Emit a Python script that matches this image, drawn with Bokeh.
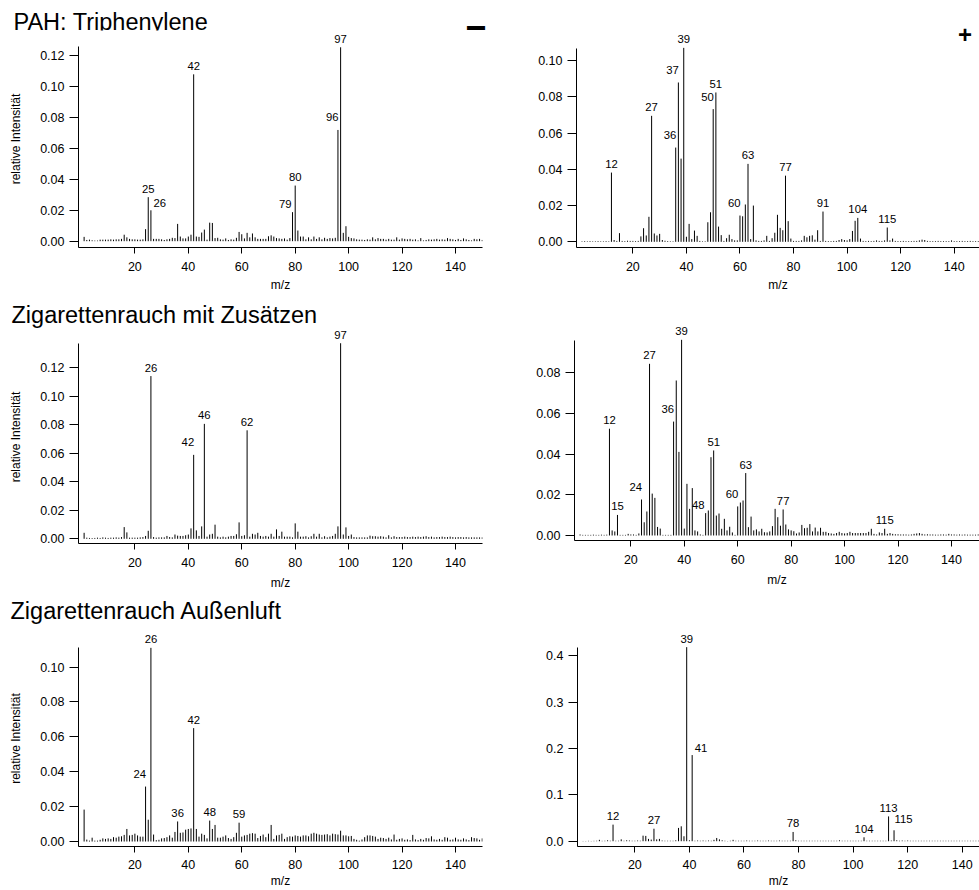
from bokeh.plotting import figure
from bokeh.models import Range1d, FixedTicker, PrintfTickFormatter, Label, LabelSet, ColumnDataSource, Div
from bokeh.core.properties import value
from bokeh.layouts import column, row
from bokeh.embed import file_html
from bokeh.resources import INLINE

FONT = "Liberation Sans"

# ---------------- data ----------------
mz = list(range(1, 151))
x_ticks = [20, 40, 60, 80, 100, 120, 140]

titles = ["PAH: Triphenylene", "Zigarettenrauch mit Zusätzen", "Zigarettenrauch Außenluft"]

# negative ions, PAH: Triphenylene
neg_pah = [
    0.0028, 0.0008, 0.0010, 0.0006, 0.0004, 0.0004, 0.0010, 0.0010, 0.0010, 0.0010,
    0.0012, 0.0010, 0.0012, 0.0012, 0.0015, 0.0042, 0.0025, 0.0015, 0.0012, 0.0012,
    0.0010, 0.0010, 0.0012, 0.0078, 0.0285, 0.0200, 0.0015, 0.0015, 0.0015, 0.0012,
    0.0008, 0.0012, 0.0015, 0.0022, 0.0020, 0.0112, 0.0030, 0.0018, 0.0018, 0.0030,
    0.0042, 0.1080, 0.0030, 0.0028, 0.0056, 0.0075, 0.0010, 0.0120, 0.0118, 0.0020,
    0.0022, 0.0012, 0.0010, 0.0018, 0.0008, 0.0012, 0.0010, 0.0022, 0.0060, 0.0045,
    0.0018, 0.0054, 0.0025, 0.0050, 0.0025, 0.0015, 0.0015, 0.0015, 0.0015, 0.0032,
    0.0038, 0.0030, 0.0020, 0.0018, 0.0015, 0.0018, 0.0010, 0.0020, 0.0188, 0.0360,
    0.0069, 0.0030, 0.0030, 0.0012, 0.0025, 0.0012, 0.0030, 0.0015, 0.0025, 0.0012,
    0.0022, 0.0015, 0.0020, 0.0018, 0.0022, 0.0720, 0.1255, 0.0054, 0.0097, 0.0028,
    0.0020, 0.0018, 0.0012, 0.0010, 0.0010, 0.0008, 0.0012, 0.0010, 0.0025, 0.0012,
    0.0020, 0.0015, 0.0015, 0.0010, 0.0015, 0.0010, 0.0010, 0.0025, 0.0010, 0.0018,
    0.0015, 0.0012, 0.0015, 0.0010, 0.0012, 0.0005, 0.0020, 0.0005, 0.0008, 0.0012,
    0.0010, 0.0012, 0.0015, 0.0010, 0.0012, 0.0010, 0.0020, 0.0015, 0.0012, 0.0008,
    0.0015, 0.0008, 0.0018, 0.0012, 0.0008, 0.0005, 0.0015, 0.0012, 0.0015, 0.0008,
]

# positive ions, PAH: Triphenylene
pos_pah = [
    0.0003, 0.0004, 0.0003, 0.0004, 0.0003, 0.0003, 0.0004, 0.0003, 0.0003, 0.0004,
    0.0003, 0.0382, 0.0010, 0.0005, 0.0048, 0.0005, 0.0004, 0.0006, 0.0005, 0.0005,
    0.0004, 0.0005, 0.0030, 0.0075, 0.0035, 0.0138, 0.0695, 0.0046, 0.0035, 0.0044,
    0.0010, 0.0006, 0.0004, 0.0003, 0.0003, 0.0520, 0.0879, 0.0459, 0.1070, 0.0028,
    0.0099, 0.0015, 0.0062, 0.0033, 0.0005, 0.0003, 0.0003, 0.0108, 0.0163, 0.0732,
    0.0824, 0.0084, 0.0037, 0.0005, 0.0020, 0.0039, 0.0015, 0.0008, 0.0008, 0.0145,
    0.0141, 0.0206, 0.0430, 0.0015, 0.0200, 0.0008, 0.0005, 0.0005, 0.0008, 0.0033,
    0.0005, 0.0020, 0.0050, 0.0149, 0.0077, 0.0064, 0.0365, 0.0114, 0.0018, 0.0005,
    0.0005, 0.0005, 0.0008, 0.0033, 0.0025, 0.0033, 0.0036, 0.0012, 0.0064, 0.0005,
    0.0167, 0.0005, 0.0004, 0.0004, 0.0005, 0.0005, 0.0010, 0.0015, 0.0010, 0.0008,
    0.0015, 0.0060, 0.0116, 0.0132, 0.0018, 0.0005, 0.0004, 0.0005, 0.0004, 0.0005,
    0.0008, 0.0005, 0.0005, 0.0008, 0.0079, 0.0008, 0.0018, 0.0005, 0.0004, 0.0004,
    0.0005, 0.0004, 0.0004, 0.0004, 0.0005, 0.0005, 0.0008, 0.0012, 0.0010, 0.0005,
    0.0004, 0.0004, 0.0004, 0.0005, 0.0004, 0.0004, 0.0004, 0.0004, 0.0008, 0.0004,
    0.0004, 0.0004, 0.0005, 0.0004, 0.0004, 0.0005, 0.0004, 0.0004, 0.0004, 0.0004,
]

# negative ions, cigarette smoke with additives
neg_zus = [
    0.0042, 0.0008, 0.0006, 0.0005, 0.0006, 0.0008, 0.0006, 0.0010, 0.0008, 0.0006,
    0.0008, 0.0008, 0.0010, 0.0008, 0.0012, 0.0082, 0.0045, 0.0008, 0.0008, 0.0008,
    0.0008, 0.0010, 0.0012, 0.0020, 0.0056, 0.1140, 0.0012, 0.0008, 0.0010, 0.0010,
    0.0010, 0.0020, 0.0012, 0.0010, 0.0030, 0.0022, 0.0020, 0.0020, 0.0025, 0.0030,
    0.0073, 0.0588, 0.0059, 0.0020, 0.0087, 0.0805, 0.0015, 0.0030, 0.0035, 0.0099,
    0.0015, 0.0010, 0.0015, 0.0010, 0.0015, 0.0020, 0.0020, 0.0032, 0.0115, 0.0020,
    0.0025, 0.0760, 0.0015, 0.0035, 0.0030, 0.0042, 0.0020, 0.0015, 0.0020, 0.0015,
    0.0035, 0.0015, 0.0066, 0.0020, 0.0050, 0.0015, 0.0015, 0.0015, 0.0010, 0.0108,
    0.0050, 0.0015, 0.0015, 0.0018, 0.0010, 0.0018, 0.0035, 0.0015, 0.0035, 0.0010,
    0.0018, 0.0010, 0.0015, 0.0020, 0.0035, 0.0087, 0.1370, 0.0030, 0.0080, 0.0020,
    0.0030, 0.0012, 0.0010, 0.0010, 0.0010, 0.0010, 0.0010, 0.0022, 0.0018, 0.0018,
    0.0015, 0.0018, 0.0015, 0.0010, 0.0025, 0.0010, 0.0018, 0.0012, 0.0012, 0.0012,
    0.0015, 0.0012, 0.0012, 0.0015, 0.0012, 0.0015, 0.0012, 0.0015, 0.0018, 0.0012,
    0.0015, 0.0010, 0.0012, 0.0012, 0.0015, 0.0012, 0.0012, 0.0015, 0.0012, 0.0010,
    0.0012, 0.0012, 0.0010, 0.0012, 0.0010, 0.0010, 0.0010, 0.0010, 0.0010, 0.0010,
]

# positive ions, cigarette smoke with additives
pos_zus = [
    0.0005, 0.0003, 0.0003, 0.0003, 0.0003, 0.0004, 0.0003, 0.0003, 0.0004, 0.0003,
    0.0004, 0.0525, 0.0025, 0.0020, 0.0101, 0.0003, 0.0003, 0.0003, 0.0008, 0.0005,
    0.0005, 0.0003, 0.0010, 0.0177, 0.0065, 0.0118, 0.0844, 0.0206, 0.0185, 0.0042,
    0.0034, 0.0003, 0.0003, 0.0003, 0.0003, 0.0560, 0.0762, 0.0411, 0.0962, 0.0034,
    0.0254, 0.0131, 0.0233, 0.0025, 0.0020, 0.0005, 0.0003, 0.0110, 0.0123, 0.0385,
    0.0418, 0.0098, 0.0108, 0.0033, 0.0082, 0.0025, 0.0043, 0.0015, 0.0003, 0.0143,
    0.0162, 0.0172, 0.0307, 0.0041, 0.0093, 0.0025, 0.0030, 0.0020, 0.0033, 0.0016,
    0.0015, 0.0020, 0.0046, 0.0131, 0.0090, 0.0048, 0.0128, 0.0054, 0.0030, 0.0025,
    0.0021, 0.0010, 0.0015, 0.0052, 0.0036, 0.0038, 0.0056, 0.0020, 0.0039, 0.0020,
    0.0038, 0.0018, 0.0018, 0.0012, 0.0010, 0.0008, 0.0012, 0.0018, 0.0012, 0.0010,
    0.0012, 0.0018, 0.0012, 0.0012, 0.0012, 0.0012, 0.0012, 0.0012, 0.0018, 0.0033,
    0.0008, 0.0005, 0.0015, 0.0012, 0.0033, 0.0008, 0.0012, 0.0008, 0.0006, 0.0006,
    0.0005, 0.0005, 0.0005, 0.0004, 0.0005, 0.0008, 0.0010, 0.0012, 0.0008, 0.0005,
    0.0006, 0.0005, 0.0005, 0.0004, 0.0004, 0.0005, 0.0005, 0.0004, 0.0008, 0.0005,
    0.0005, 0.0004, 0.0005, 0.0004, 0.0005, 0.0004, 0.0004, 0.0004, 0.0004, 0.0005,
]

# negative ions, cigarette smoke outdoor air
neg_luft = [
    0.0183, 0.0011, 0.0005, 0.0022, 0.0005, 0.0005, 0.0010, 0.0018, 0.0015, 0.0018,
    0.0015, 0.0025, 0.0022, 0.0028, 0.0030, 0.0038, 0.0072, 0.0035, 0.0038, 0.0045,
    0.0035, 0.0028, 0.0028, 0.0315, 0.0125, 0.1110, 0.0040, 0.0008, 0.0010, 0.0018,
    0.0020, 0.0025, 0.0035, 0.0022, 0.0055, 0.0115, 0.0050, 0.0052, 0.0068, 0.0072,
    0.0075, 0.0650, 0.0072, 0.0028, 0.0045, 0.0038, 0.0018, 0.0120, 0.0072, 0.0095,
    0.0022, 0.0022, 0.0028, 0.0035, 0.0020, 0.0015, 0.0025, 0.0050, 0.0108, 0.0028,
    0.0035, 0.0038, 0.0045, 0.0048, 0.0045, 0.0020, 0.0032, 0.0040, 0.0025, 0.0045,
    0.0095, 0.0015, 0.0035, 0.0038, 0.0045, 0.0015, 0.0025, 0.0030, 0.0028, 0.0035,
    0.0032, 0.0028, 0.0035, 0.0035, 0.0030, 0.0045, 0.0050, 0.0045, 0.0040, 0.0038,
    0.0040, 0.0042, 0.0035, 0.0045, 0.0042, 0.0040, 0.0062, 0.0035, 0.0035, 0.0030,
    0.0032, 0.0015, 0.0010, 0.0005, 0.0012, 0.0025, 0.0035, 0.0035, 0.0032, 0.0028,
    0.0015, 0.0022, 0.0020, 0.0015, 0.0022, 0.0012, 0.0040, 0.0010, 0.0015, 0.0018,
    0.0010, 0.0012, 0.0008, 0.0038, 0.0012, 0.0008, 0.0015, 0.0010, 0.0020, 0.0018,
    0.0030, 0.0012, 0.0010, 0.0015, 0.0010, 0.0025, 0.0022, 0.0010, 0.0012, 0.0022,
    0.0012, 0.0010, 0.0018, 0.0012, 0.0008, 0.0025, 0.0020, 0.0018, 0.0010, 0.0018,
]

# positive ions, cigarette smoke outdoor air
pos_luft = [
    0.0005, 0.0005, 0.0008, 0.0005, 0.0008, 0.0010, 0.0030, 0.0008, 0.0010, 0.0020,
    0.0010, 0.0358, 0.0010, 0.0010, 0.0040, 0.0010, 0.0020, 0.0015, 0.0010, 0.0010,
    0.0015, 0.0010, 0.0120, 0.0115, 0.0050, 0.0035, 0.0270, 0.0040, 0.0050, 0.0015,
    0.0010, 0.0010, 0.0010, 0.0010, 0.0020, 0.0287, 0.0322, 0.0107, 0.4190, 0.0020,
    0.1860, 0.0010, 0.0015, 0.0010, 0.0015, 0.0010, 0.0015, 0.0010, 0.0030, 0.0070,
    0.0040, 0.0020, 0.0010, 0.0005, 0.0010, 0.0030, 0.0010, 0.0010, 0.0010, 0.0010,
    0.0015, 0.0010, 0.0010, 0.0010, 0.0015, 0.0010, 0.0010, 0.0010, 0.0015, 0.0010,
    0.0010, 0.0010, 0.0015, 0.0010, 0.0010, 0.0010, 0.0010, 0.0200, 0.0020, 0.0010,
    0.0010, 0.0010, 0.0010, 0.0010, 0.0010, 0.0010, 0.0010, 0.0010, 0.0010, 0.0010,
    0.0010, 0.0010, 0.0010, 0.0010, 0.0020, 0.0010, 0.0010, 0.0010, 0.0010, 0.0010,
    0.0010, 0.0010, 0.0010, 0.0085, 0.0010, 0.0010, 0.0010, 0.0010, 0.0010, 0.0010,
    0.0010, 0.0010, 0.0536, 0.0015, 0.0236, 0.0020, 0.0010, 0.0015, 0.0010, 0.0015,
    0.0010, 0.0010, 0.0010, 0.0010, 0.0010, 0.0010, 0.0010, 0.0010, 0.0010, 0.0010,
    0.0010, 0.0010, 0.0010, 0.0010, 0.0010, 0.0010, 0.0010, 0.0010, 0.0010, 0.0010,
    0.0010, 0.0010, 0.0010, 0.0010, 0.0010, 0.0010, 0.0010, 0.0010, 0.0010, 0.0010,
]

# labelled peaks (m/z)
peaks_neg_pah = [25, 26, 42, 79, 80, 96, 97]
peaks_pos_pah = [12, 27, 36, 37, 39, 50, 51, 60, 63, 77, 91, 104, 115]
peaks_neg_zus = [26, 42, 46, 62, 97]
peaks_pos_zus = [12, 15, 24, 27, 36, 39, 48, 51, 60, 63, 77, 115]
peaks_neg_luft = [24, 26, 36, 42, 48, 59]
peaks_pos_luft = [12, 27, 39, 41, 78, 104, 113, 115]

yticks_neg_pah = [0.0, 0.02, 0.04, 0.06, 0.08, 0.10, 0.12]
yticks_pos_pah = [0.0, 0.02, 0.04, 0.06, 0.08, 0.10]
yticks_neg_zus = [0.0, 0.02, 0.04, 0.06, 0.08, 0.10, 0.12]
yticks_pos_zus = [0.0, 0.02, 0.04, 0.06, 0.08]
yticks_neg_luft = [0.0, 0.02, 0.04, 0.06, 0.08, 0.10]
yticks_pos_luft = [0.0, 0.1, 0.2, 0.3, 0.4]

# ---------------- styling of peak labels (placement style, not data) ----------------
# code -> (text_align, x_offset px, y_offset px upward)
LABEL_STYLES = {
    "c": ("center", 0, 4.5),
    "r": ("right", 0.5, 8.5),
    "R": ("right", -1, 4),
    "l": ("left", 2.5, 3.5),
    "L": ("left", 0.5, 7),
}
label_style = {
    "neg_pah": {26: "l", 79: "R", 96: "r"},
    "pos_pah": {36: "r", 37: "r", 50: "r", 60: "r"},
    "neg_zus": {42: "r"},
    "pos_zus": {36: "r", 48: "R", 60: "r", 24: "r"},
    "neg_luft": {24: "r"},
    "pos_luft": {41: "l", 115: "L"},
}


def header(width, height, title, title_top, title_left, sign=None, sign_top=0, sign_left=0):
    """Row title above a left panel (HTML text)."""
    html = (f'<div style="position:relative;width:{width}px;height:{height}px;">'
            f'<span style="position:absolute;left:{title_left}px;top:{title_top}px;'
            f'font-family:\'{FONT}\';font-size:23.5px;line-height:1;color:#000;'
            f'white-space:nowrap;">{title}</span>')
    if sign:
        html += (f'<span style="position:absolute;left:{sign_left}px;top:{sign_top}px;'
                 f'font-family:\'{FONT}\';font-size:36px;font-weight:bold;line-height:1;'
                 f'color:#000;">{sign}</span>')
    html += '</div>'
    return Div(text=html, width=width, height=height, margin=(0, 0, 0, 0),
               styles={"overflow": "visible"})


def make_panel(key, vals, peaks, yticks, yfmt, xr, yr, ytop, width, height,
               mbl, mbr, mbb, ylabel=None, sign=None, sign_xy=None,
               tick_standoff=8, xlabel_standoff=3):
    p = figure(width=width, height=height,
               x_range=Range1d(*xr), y_range=Range1d(*yr),
               output_backend="svg", toolbar_location=None,
               min_border_left=mbl, min_border_right=mbr,
               min_border_top=0, min_border_bottom=mbb)
    p.outline_line_color = None
    p.xgrid.visible = False
    p.ygrid.visible = False
    p.background_fill_color = "white"
    p.border_fill_color = "white"

    p.segment(x0=mz, y0=[0.0] * len(mz), x1=mz, y1=vals,
              line_color="black", line_width=1)

    # axes
    p.xaxis.ticker = FixedTicker(ticks=x_ticks, minor_ticks=[])
    p.yaxis.ticker = FixedTicker(ticks=yticks, minor_ticks=[])
    p.yaxis.formatter = PrintfTickFormatter(format=yfmt)
    p.yaxis.bounds = (yr[0], ytop)
    for ax in (p.xaxis[0], p.yaxis[0]):
        ax.axis_line_color = "black"
        ax.axis_line_width = 1
        ax.major_tick_line_color = "black"
        ax.major_tick_in = 0
        ax.minor_tick_in = 0
        ax.minor_tick_out = 0
        ax.major_label_text_font = FONT
        ax.major_label_text_font_size = "12.5px"
        ax.major_label_text_color = "black"
        ax.axis_label_text_font = FONT
        ax.axis_label_text_font_size = "12px"
        ax.axis_label_text_font_style = "normal"
        ax.axis_label_text_color = "black"
    p.xaxis.major_tick_out = 6
    p.yaxis.major_tick_out = 9
    p.xaxis.major_label_standoff = tick_standoff
    p.yaxis.major_label_standoff = 5
    p.xaxis.axis_label = "m/z"
    p.xaxis.axis_label_standoff = xlabel_standoff
    if ylabel:
        p.yaxis.axis_label = ylabel
        p.yaxis.axis_label_standoff = 14

    # peak labels, grouped by placement style
    styles = label_style.get(key, {})
    groups = {}
    for m in peaks:
        groups.setdefault(styles.get(m, "c"), []).append(m)
    for code, ms in groups.items():
        align, dx, dy = LABEL_STYLES[code]
        src = ColumnDataSource(dict(x=ms, y=[vals[m - 1] for m in ms], t=[str(m) for m in ms]))
        p.add_layout(LabelSet(x="x", y="y", text="t", source=src,
                              x_offset=dx, y_offset=dy,
                              text_align=align, text_baseline="alphabetic",
                              text_font=value(FONT), text_font_size=value("11.3px"),
                              text_color=value("black")))

    if sign:
        p.add_layout(Label(x=sign_xy[0], y=sign_xy[1], x_units="screen", y_units="screen",
                           text=sign, text_font=FONT, text_font_size="24px",
                           text_font_style="bold", text_color="black",
                           text_align="center", text_baseline="middle"))
    return p


# row 1 (0-294)
h1 = header(490, 30, titles[0], 11.2, 13.5, sign="\u2212", sign_top=10.2, sign_left=465.3)
p1 = make_panel("neg_pah", neg_pah, peaks_neg_pah, yticks_neg_pah, "%.2f",
                (-1.1, 150.1), (-0.00408, 0.13637), 0.1260, 490, 264, 78, 8, 47,
                ylabel="relative Intensität", xlabel_standoff=4)
p2 = make_panel("pos_pah", pos_pah, peaks_pos_pah, yticks_pos_pah, "%.2f",
                (-1.05, 149.45), (-0.00313, 0.13313), 0.1068, 489, 294, 86, 0, 46,
                sign="+", sign_xy=(388.5, 213.5), xlabel_standoff=4)
# row 2 (294-592)
h2 = header(490, 36, titles[1], 9.6, 11.5)
p3 = make_panel("neg_zus", neg_zus, peaks_neg_zus, yticks_neg_zus, "%.2f",
                (-1.1, 150.1), (-0.00329, 0.14592), 0.1368, 490, 262, 78, 8, 49,
                ylabel="relative Intensität", tick_standoff=8, xlabel_standoff=6)
p4 = make_panel("pos_zus", pos_zus, peaks_pos_zus, yticks_pos_zus, "%.2f",
                (-1.085, 150.49), (-0.00246, 0.11848), 0.0959, 489, 298, 84, 0, 52,
                tick_standoff=8, xlabel_standoff=6)
# row 3 (592-890)
h3 = header(490, 38, titles[2], 8.2, 10.5)
p5 = make_panel("neg_luft", neg_luft, peaks_neg_luft, yticks_neg_luft, "%.2f",
                (-1.1, 150.1), (-0.00285, 0.12094), 0.1112, 490, 260, 78, 8, 43,
                ylabel="relative Intensität", tick_standoff=7, xlabel_standoff=2)
p6 = make_panel("pos_luft", pos_luft, peaks_pos_luft, yticks_pos_luft, "%.1f",
                (-1.03, 146.33), (-0.0114, 0.5370), 0.4187, 489, 298, 87, 0, 43,
                tick_standoff=7, xlabel_standoff=2)

layout = column(row(column(h1, p1), p2),
                row(column(h2, p3), p4),
                row(column(h3, p5), p6))
open("out.html", "w").write(file_html(layout, INLINE))
